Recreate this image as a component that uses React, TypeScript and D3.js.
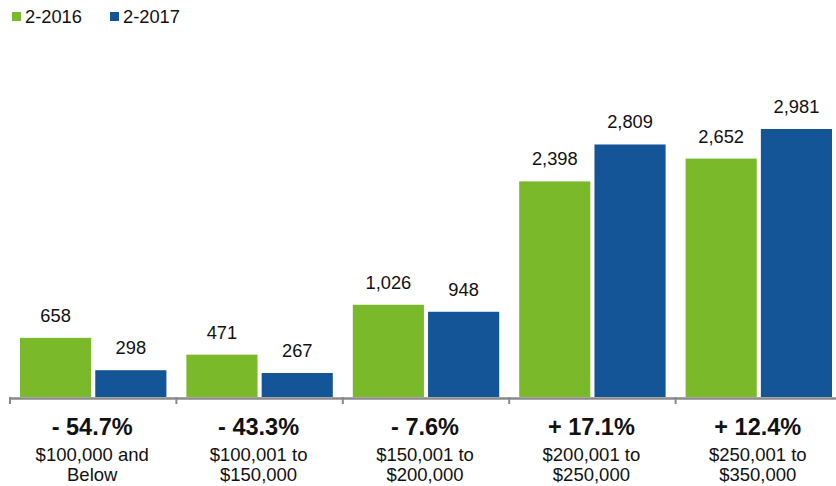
import React from "react";
import * as d3 from "d3";

const categories = [
  ["$100,000 and", "Below"],
  ["$100,001 to", "$150,000"],
  ["$150,001 to", "$200,000"],
  ["$200,001 to", "$250,000"],
  ["$250,001 to", "$350,000"],
];
const changes = ["- 54.7%", "- 43.3%", "- 7.6%", "+ 17.1%", "+ 12.4%"];
const series2016 = [658, 471, 1026, 2398, 2652];
const series2017 = [298, 267, 948, 2809, 2981];
const seriesNames = ["2-2016", "2-2017"];
const colors = ["#7aba2a", "#135596"];

const W = 836;
const H = 486;
const FONT = "'Liberation Sans', Arial, Helvetica, sans-serif";

export default function App() {
  const x = d3
    .scaleBand<number>()
    .domain(d3.range(categories.length))
    .range([10, 10 + 166.4 * categories.length])
    .paddingInner(0)
    .paddingOuter(0);
  const inner = d3
    .scaleBand<number>()
    .domain([0, 1])
    .range([10, 156.4])
    .paddingInner(0.055);
  const y = d3.scaleLinear().domain([0, 3000]).range([397, 127.3]);
  const all = [series2016, series2017];

  return (
    <svg
      width={W}
      height={H}
      style={{ position: "absolute", left: 0, top: 0, background: "#fff" }}
      fontFamily={FONT}
    >
      {/* legend */}
      {seriesNames.map((n, i) => (
        <g key={n} transform={`translate(${i === 0 ? 12 : 110},0)`}>
          <rect x={0} y={12} width={9} height={9} fill={colors[i]} />
          <text x={13} y={22.7} fontSize={18.3} fill="#111">
            {n}
          </text>
        </g>
      ))}

      {/* bars */}
      {categories.map((_, ci) => (
        <g key={ci} transform={`translate(${x(ci)},0)`}>
          {all.map((s, si) => {
            const bx = inner(si)!;
            const bw = inner.bandwidth();
            const top = y(s[ci]);
            return (
              <g key={si}>
                <rect
                  x={bx}
                  y={top}
                  width={bw}
                  height={y(0) - top}
                  fill={colors[si]}
                />
                <text
                  x={bx + bw / 2}
                  y={top - 16}
                  textAnchor="middle"
                  fontSize={18.3}
                  fill="#111"
                >
                  {d3.format(",")(s[ci])}
                </text>
              </g>
            );
          })}
        </g>
      ))}

      {/* axis */}
      <line x1={10} x2={W} y1={398.5} y2={398.5} stroke="#8a8a8a" strokeWidth={2.5} />
      {d3.range(categories.length + 1).map((i) => (
        <line
          key={i}
          x1={10 + 166.4 * i}
          x2={10 + 166.4 * i}
          y1={397}
          y2={404}
          stroke="#8a8a8a"
          strokeWidth={2}
        />
      ))}

      {/* category labels */}
      {categories.map((lines, ci) => {
        const cx = x(ci)! + x.bandwidth() / 2 - 1;
        return (
          <g key={ci}>
            <text x={cx} y={435} textAnchor="middle" fontSize={23.5} fontWeight="bold" fill="#111">
              {changes[ci]}
            </text>
            <text x={cx} y={461} textAnchor="middle" fontSize={18.5} fill="#111">
              {lines[0]}
            </text>
            <text x={cx} y={480.5} textAnchor="middle" fontSize={18.5} fill="#111">
              {lines[1]}
            </text>
          </g>
        );
      })}
    </svg>
  );
}
